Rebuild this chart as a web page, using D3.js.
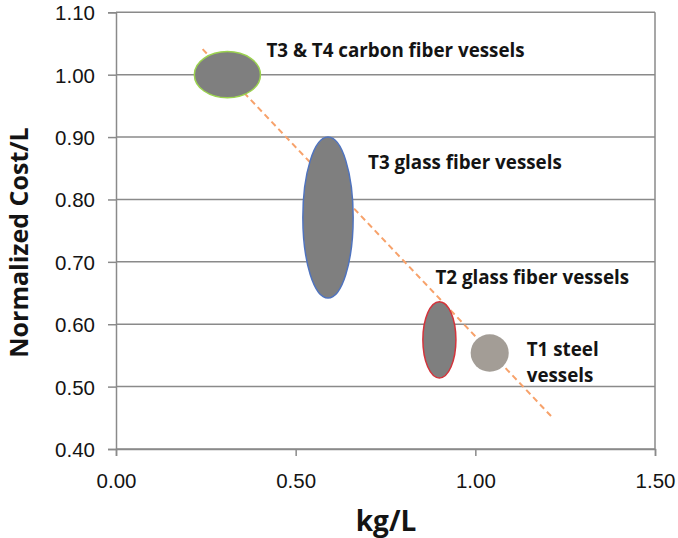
<!DOCTYPE html>
<html>
<head>
<meta charset="utf-8">
<script src="https://cdn.jsdelivr.net/npm/d3@7"></script>
<style>
  html, body { margin: 0; padding: 0; background: #fff; }
  svg { display: block; }
</style>
</head>
<body>
<svg id="chart" width="678" height="538"></svg>
<script>
// Axis ticks
const xTicks = [0.0, 0.5, 1.0, 1.5];
const yTicks = [0.4, 0.5, 0.6, 0.7, 0.8, 0.9, 1.0, 1.1];

// Vessel classes: centre and half-extent of each cost/weight region
const vesselNames = ["T3 & T4 carbon fiber vessels", "T3 glass fiber vessels", "T2 glass fiber vessels", "T1 steel vessels"];
const centerKgPerL = [0.31, 0.59, 0.90, 1.04];
const centerCost   = [1.00, 0.771, 0.575, 0.554];
const halfKgPerL   = [0.092, 0.070, 0.046, 0.053];
const halfCost     = [0.037, 0.129, 0.061, 0.030];

// Trend line end points
const trendKgPerL = [0.241, 1.212];
const trendCost   = [1.041, 0.452];

const svg = d3.select("#chart");
const plot = { left: 116, right: 655, top: 12.3, bottom: 449 };

const x = d3.scaleLinear().domain([0, 1.5]).range([plot.left, plot.right]);
const y = d3.scaleLinear().domain([0.4, 1.1]).range([plot.bottom, plot.top]);

const gridColor = "#8a8a8a";
const textColor = "#141414";
const labelFont = "'Open Sans', 'Noto Sans', sans-serif";
const tickFont = "'Liberation Sans', Arial, sans-serif";

// Horizontal gridlines
svg.append("g").selectAll("line").data(yTicks).join("line")
  .attr("x1", plot.left).attr("x2", plot.right)
  .attr("y1", d => y(d)).attr("y2", d => y(d))
  .attr("stroke", gridColor).attr("stroke-width", 1.5);

// Right border of the plot area
svg.append("line")
  .attr("x1", plot.right).attr("x2", plot.right)
  .attr("y1", plot.top).attr("y2", plot.bottom)
  .attr("stroke", gridColor).attr("stroke-width", 1.5);

// Y axis
const yAxis = svg.append("g")
  .attr("transform", `translate(${plot.left},0)`)
  .call(d3.axisLeft(y).tickValues(yTicks).tickFormat(d3.format(".2f")).tickSize(8).tickPadding(13));
yAxis.select(".domain").attr("stroke", gridColor).attr("stroke-width", 1.5);
yAxis.selectAll(".tick line").attr("stroke", gridColor).attr("stroke-width", 1.5);
yAxis.selectAll("text")
  .style("font-family", tickFont).style("font-size", "20.5px")
  .attr("fill", textColor).attr("dy", "0.36em");

// X axis
const xAxis = svg.append("g")
  .attr("transform", `translate(0,${plot.bottom})`)
  .call(d3.axisBottom(x).tickValues(xTicks).tickFormat(d3.format(".2f")).tickSize(7).tickPadding(17));
xAxis.select(".domain").attr("stroke", gridColor).attr("stroke-width", 1.5);
xAxis.selectAll(".tick line").attr("stroke", gridColor).attr("stroke-width", 1.5);
xAxis.selectAll("text")
  .style("font-family", tickFont).style("font-size", "20.5px")
  .attr("fill", textColor);

// Axis titles
svg.append("text")
  .attr("transform", `translate(28,${(118 + 367) / 2}) rotate(-90)`)
  .attr("text-anchor", "middle")
  .style("font-family", labelFont).style("font-size", "25px").style("font-weight", "bold")
  .attr("fill", textColor)
  .text("Normalized Cost/L");

svg.append("text")
  .attr("x", 386).attr("y", 531)
  .attr("text-anchor", "middle")
  .style("font-family", labelFont).style("font-size", "28px").style("font-weight", "bold")
  .attr("fill", textColor)
  .text("kg/L");

// Dashed trend line
svg.append("line")
  .attr("x1", x(trendKgPerL[0])).attr("y1", y(trendCost[0]))
  .attr("x2", x(trendKgPerL[1])).attr("y2", y(trendCost[1]))
  .attr("stroke", "#f7a26b").attr("stroke-width", 2)
  .attr("stroke-dasharray", "6,4");

// Vessel regions
const fills   = ["#7f7f7f", "#7f7f7f", "#7f7f7f", "#a39d96"];
const strokes = ["#9bd24f", "#4f73be", "#d2343c", "none"];
const regions = vesselNames.map((name, i) => ({
  name, cx: centerKgPerL[i], cy: centerCost[i], hx: halfKgPerL[i], hy: halfCost[i],
  fill: fills[i], stroke: strokes[i]
}));

svg.append("g").selectAll("ellipse").data(regions).join("ellipse")
  .attr("cx", d => x(d.cx)).attr("cy", d => y(d.cy))
  .attr("rx", d => x(d.cx + d.hx) - x(d.cx))
  .attr("ry", d => y(d.cy - d.hy) - y(d.cy))
  .attr("fill", d => d.fill)
  .attr("stroke", d => d.stroke).attr("stroke-width", 1.5);

// Region labels (pixel offsets from each region's centre)
const labelOffsets = [
  { dx: 39, dy: -18, lines: [vesselNames[0]] },
  { dx: 40, dy: -49, lines: [vesselNames[1]] },
  { dx: -4, dy: -56, lines: [vesselNames[2]] },
  { dx: 37, dy: 3, lines: ["T1 steel", "vessels"] }
];
const labels = svg.append("g")
  .style("font-family", labelFont).style("font-size", "18.8px").style("font-weight", "bold")
  .attr("fill", textColor);
regions.forEach((d, i) => {
  const o = labelOffsets[i];
  const t = labels.append("text")
    .attr("x", x(d.cx) + o.dx).attr("y", y(d.cy) + o.dy);
  o.lines.forEach((line, j) => {
    t.append("tspan").attr("x", x(d.cx) + o.dx).attr("dy", j === 0 ? 0 : 26).text(line);
  });
});
</script>
</body>
</html>
